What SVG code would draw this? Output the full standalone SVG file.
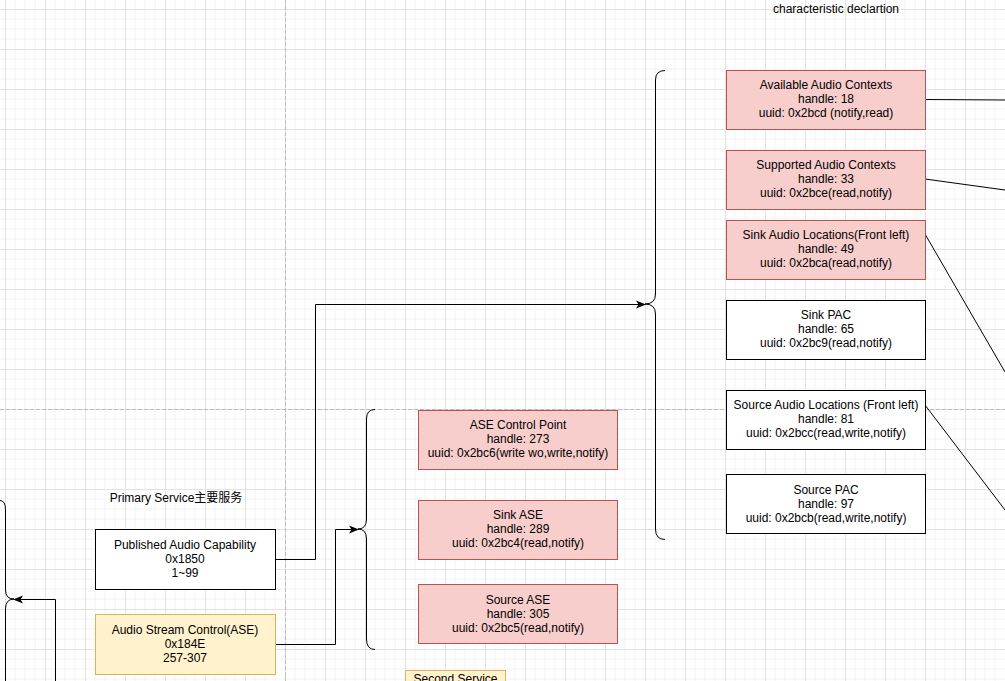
<svg xmlns="http://www.w3.org/2000/svg" width="1005" height="681" viewBox="0 0 1005 681">
<defs>
<pattern id="grid" patternUnits="userSpaceOnUse" x="5" y="9" width="40" height="40">
<path d="M10,0V40M20,0V40M30,0V40M0,10H40M0,20H40M0,30H40" stroke="#f3f3f3" stroke-width="1" fill="none"/>
<path d="M0.5,0V40M0,0.5H40" stroke="#e2e2e2" stroke-width="1" fill="none"/>
</pattern>
<marker id="arr" viewBox="0 0 10 10" refX="9" refY="5" markerWidth="10" markerHeight="10" markerUnits="userSpaceOnUse" orient="auto">
<path d="M0,1 L10,5 L0,9 L2.5,5 Z" fill="#000"/>
</marker>
<style>
text{font-family:"Liberation Sans",Arial,sans-serif;font-size:12px;fill:#000;text-anchor:middle}
.pink{fill:#f8cecc;stroke:#b85450;stroke-width:1}
.white{fill:#fff;stroke:#000;stroke-width:1}
.yellow{fill:#fff2cc;stroke:#d6b656;stroke-width:1}
.edge{fill:none;stroke:#000;stroke-width:1}
.dash{stroke:#bbb;stroke-width:1;stroke-dasharray:4 2;fill:none}
</style>
</defs>
<rect width="1005" height="681" fill="#fff"/>
<rect width="1005" height="681" fill="url(#grid)"/>
<path class="dash" d="M285.5,0V681M0,409.5H1005"/>

<text x="836" y="13">characteristic declartion</text>
<text x="176" y="502">Primary Service<tspan font-family="'Noto Sans CJK SC',sans-serif">主要服务</tspan></text>

<g id="braces" fill="none" stroke="#000" stroke-width="1">
<path d="M665,70.5 Q655.5,70.5 655.5,80 L655.5,294 Q655.5,304 645,304 Q655.5,304 655.5,314 L655.5,529 Q655.5,539.5 665,539.5"/>
<path d="M375,409.5 Q366.5,409.5 366.5,419 L366.5,519 Q366.5,529 358,529 Q366.5,529 366.5,539 L366.5,639 Q366.5,649.5 375,649.5"/>
<path d="M0,500.5 Q5.5,500.5 5.5,510 L5.5,590 Q5.5,599 14,599 Q5.5,599 5.5,609 L5.5,681"/>
</g>

<g id="connectors">
<path class="edge" d="M275,559.5 H315.5 V304.5 H645" marker-end="url(#arr)"/>
<path class="edge" d="M275,644.5 H335.5 V529.5 H358" marker-end="url(#arr)"/>
<path class="edge" d="M55.5,681 V599.5 H14" marker-end="url(#arr)"/>
<path class="edge" d="M925,99.5 L1005,100"/>
<path class="edge" d="M925,179 L1005,190"/>
<path class="edge" d="M925,234 L1005,372"/>
<path class="edge" d="M925,405 L1005,510"/>
</g>

<g id="n-available">
<rect class="pink" x="726.5" y="70.5" width="199" height="59"/>
<text x="826" y="89">Available Audio Contexts</text>
<text x="826" y="103">handle: 18</text>
<text x="826" y="117">uuid: 0x2bcd (notify,read)</text>
</g>
<g id="n-supported">
<rect class="pink" x="726.5" y="150.5" width="199" height="59"/>
<text x="826" y="169">Supported Audio Contexts</text>
<text x="826" y="183">handle: 33</text>
<text x="826" y="197">uuid: 0x2bce(read,notify)</text>
</g>
<g id="n-sinkloc">
<rect class="pink" x="726.5" y="220.5" width="199" height="59"/>
<text x="826" y="239">Sink Audio Locations(Front left)</text>
<text x="826" y="253">handle: 49</text>
<text x="826" y="267">uuid: 0x2bca(read,notify)</text>
</g>
<g id="n-sinkpac">
<rect class="white" x="726.5" y="300.5" width="199" height="59"/>
<text x="826" y="319">Sink PAC</text>
<text x="826" y="333">handle: 65</text>
<text x="826" y="347">uuid: 0x2bc9(read,notify)</text>
</g>
<g id="n-sourceloc">
<rect class="white" x="726.5" y="390.5" width="199" height="59"/>
<text x="826" y="409">Source Audio Locations (Front left)</text>
<text x="826" y="423">handle: 81</text>
<text x="826" y="437">uuid: 0x2bcc(read,write,notify)</text>
</g>
<g id="n-sourcepac">
<rect class="white" x="726.5" y="474.5" width="199" height="59"/>
<text x="826" y="494">Source PAC</text>
<text x="826" y="508">handle: 97</text>
<text x="826" y="522">uuid: 0x2bcb(read,write,notify)</text>
</g>
<g id="n-asecp">
<rect class="pink" x="418.5" y="410.5" width="199" height="59"/>
<text x="518" y="429">ASE Control Point</text>
<text x="518" y="443">handle: 273</text>
<text x="518" y="457">uuid: 0x2bc6(write wo,write,notify)</text>
</g>
<g id="n-sinkase">
<rect class="pink" x="418.5" y="500.5" width="199" height="59"/>
<text x="518" y="519">Sink ASE</text>
<text x="518" y="533">handle: 289</text>
<text x="518" y="547">uuid: 0x2bc4(read,notify)</text>
</g>
<g id="n-sourcease">
<rect class="pink" x="418.5" y="584.5" width="199" height="59"/>
<text x="518" y="604">Source ASE</text>
<text x="518" y="618">handle: 305</text>
<text x="518" y="632">uuid: 0x2bc5(read,notify)</text>
</g>
<g id="n-pacs">
<rect class="white" x="95.5" y="529.5" width="180" height="60"/>
<text x="185" y="549">Published Audio Capability</text>
<text x="185" y="563">0x1850</text>
<text x="185" y="577">1~99</text>
</g>
<g id="n-ascs">
<rect class="yellow" x="95.5" y="614.5" width="180" height="60"/>
<text x="185" y="634">Audio Stream Control(ASE)</text>
<text x="185" y="648">0x184E</text>
<text x="185" y="662">257-307</text>
</g>
<g id="n-second">
<rect class="yellow" x="405.5" y="670.5" width="100" height="30"/>
<text x="455.5" y="683">Second Service</text>
</g>
</svg>
